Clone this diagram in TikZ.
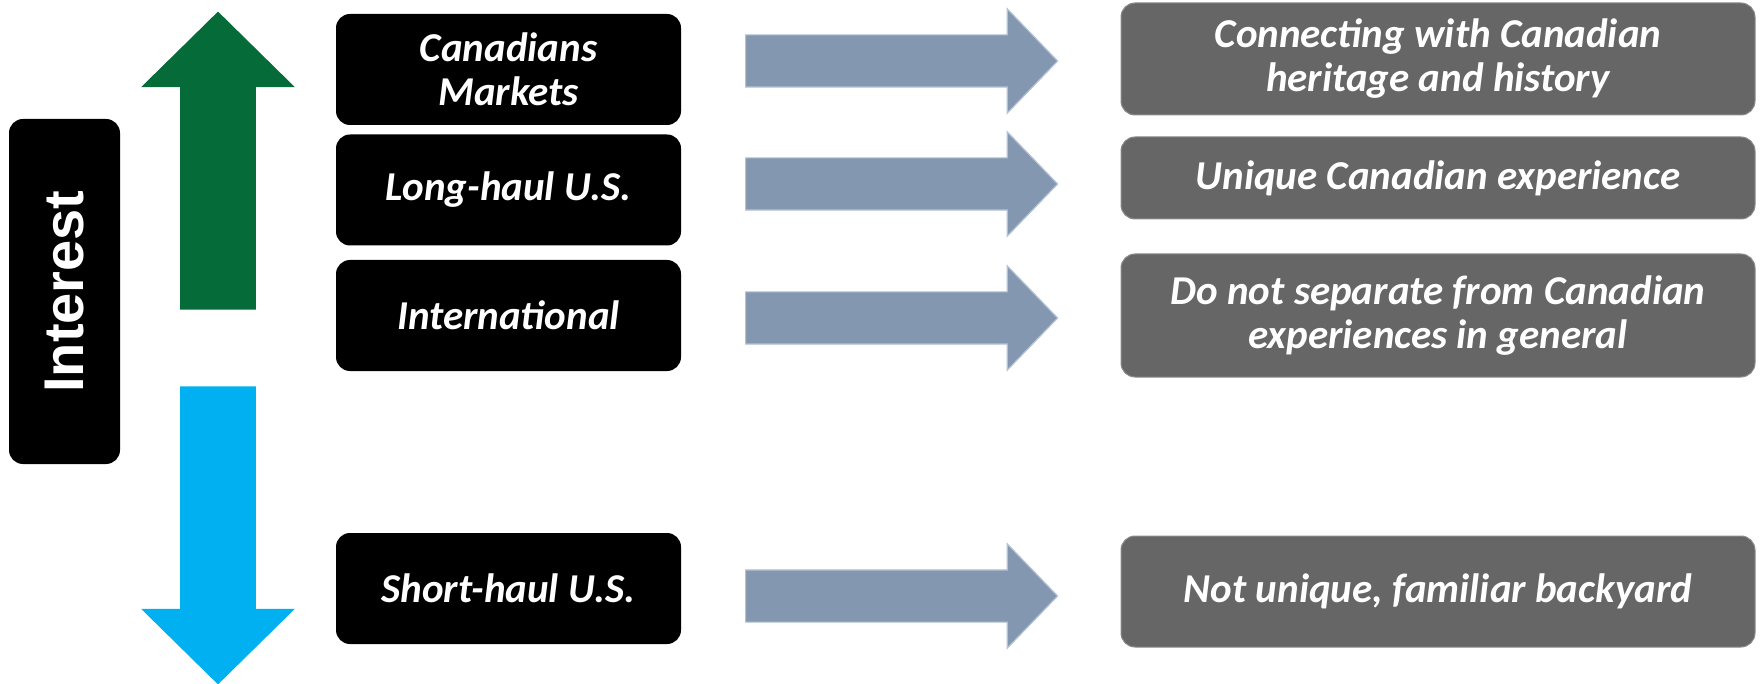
\documentclass[tikz,border=0pt]{standalone}
\usepackage{fontspec}
\setmainfont{Carlito}
\newfontfamily\interestfont{Liberation Sans}
\usetikzlibrary{shapes.arrows}

\definecolor{upgreen}{RGB}{5,107,57}
\definecolor{downblue}{RGB}{0,176,240}
\definecolor{linkblue}{RGB}{132,151,176}
\definecolor{linkedge}{RGB}{180,194,214}
\definecolor{boxgrey}{RGB}{102,102,102}
\definecolor{greyedge}{RGB}{140,140,140}

\tikzset{
  market/.style={rectangle, rounded corners=7pt, fill=black, text=white,
    minimum width=172.5pt, minimum height=55.5pt, align=center,
    font=\fontsize{20.5}{22}\selectfont\bfseries\itshape},
  reason/.style={rectangle, rounded corners=7pt, fill=boxgrey, draw=greyedge,
    line width=0.5pt, text=white, minimum width=317pt, align=center,
    font=\fontsize{20.5}{22}\selectfont\bfseries\itshape},
  link/.style={single arrow, fill=linkblue, draw=linkedge, line width=0.6pt,
    inner xsep=0pt, inner ysep=12.75pt, minimum height=156pt, anchor=tail,
    single arrow head extend=13pt, single arrow tip angle=92},
  trend/.style={single arrow, inner xsep=0pt, inner ysep=18.75pt,
    minimum height=149pt, anchor=tail, single arrow head extend=19.5pt,
    single arrow tip angle=91},
}

\begin{document}
\begin{tikzpicture}[x=0.5pt,y=-0.5pt]
  \useasboundingbox (0,0) rectangle (1762,684);

  % axis
  \node[rectangle, rounded corners=7pt, fill=black, text=white, rotate=90,
    minimum width=172.5pt, minimum height=55.5pt,
    font=\interestfont\fontsize{28}{30}\selectfont\bfseries] (interest) at (64.5,291.5) {Interest};
  \node[trend, fill=upgreen, rotate=90] (up) at (218,310) {};
  \node[trend, fill=downblue, rotate=-90] (down) at (218,386) {};

  % markets
  \node[market] (canada) at (508.5,69.5) {Canadians\\Markets};
  \node[market] (longhaul) at (508.5,190) {Long-haul U.S.};
  \node[market] (intl) at (508.5,315.5) {International};
  \node[market] (shorthaul) at (508.5,588.5) {Short-haul U.S.};

  % links
  \node[link] (l1) at (745,61) {};
  \node[link] (l2) at (745,184) {};
  \node[link] (l3) at (745,318) {};
  \node[link] (l4) at (745,596) {};

  % reasons
  \node[reason, minimum height=56pt] (heritage) at (1438,59) {Connecting with Canadian\\heritage and history};
  \node[reason, minimum height=41pt] (unique) at (1438,178) {Unique Canadian experience};
  \node[reason, minimum height=61.5pt] (general) at (1438,315.5) {Do not separate from Canadian\\experiences in general};
  \node[reason, minimum height=55.5pt] (backyard) at (1438,591.5) {Not unique, familiar backyard};
\end{tikzpicture}
\end{document}
